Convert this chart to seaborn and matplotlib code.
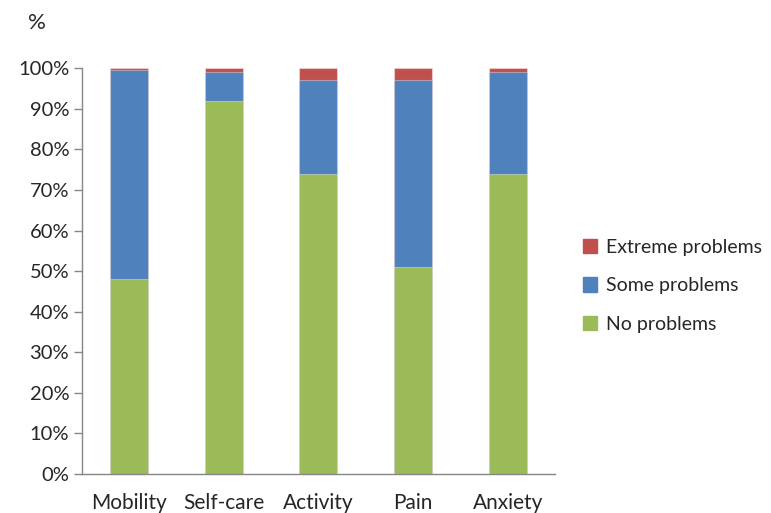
import matplotlib
matplotlib.use("Agg")
import matplotlib.pyplot as plt
import seaborn as sns
import pandas as pd
import numpy as np
from matplotlib.patches import Patch

categories = ["Mobility", "Self-care", "Activity", "Pain", "Anxiety"]
no_problems = [48, 92, 74, 51, 74]
some_problems = [51.5, 7, 23, 46, 25]
extreme_problems = [0.5, 1, 3, 3, 1]

green = "#9BBB59"
blue = "#4F81BD"
red = "#C0504D"

df = pd.DataFrame({"cat": categories, "no": no_problems,
                   "some": some_problems, "extreme": extreme_problems})
df["lvl2"] = df["no"] + df["some"]
df["lvl3"] = df["lvl2"] + df["extreme"]

sns.set_theme(style="white")
plt.rcParams["font.family"] = ["Lato", "DejaVu Sans"]

fig = plt.figure(figsize=(7.71, 5.13), dpi=100)
ax = fig.add_axes([0.106, 0.076, 0.614, 0.791])

# stacked bars drawn tallest first
sns.barplot(data=df, x="cat", y="lvl3", color=red, width=0.4, saturation=1, ax=ax)
sns.barplot(data=df, x="cat", y="lvl2", color=blue, width=0.4, saturation=1, ax=ax)
sns.barplot(data=df, x="cat", y="no", color=green, width=0.4, saturation=1, ax=ax)
for p in ax.patches:
    p.set_edgecolor((1, 1, 1, 0.35))
    p.set_linewidth(0.8)

ax.set_ylim(0, 100)
ax.set_xlim(-0.5, len(categories) - 0.5)
ax.set_yticks(np.arange(0, 101, 10))
ax.set_yticklabels([f"{v}%" for v in range(0, 101, 10)], fontsize=14.5)
ax.set_xticks(range(len(categories)))
ax.set_xticklabels(categories, fontsize=15)
ax.set_xticks(np.arange(-0.5, len(categories), 1), minor=True)
ax.tick_params(axis="x", which="major", length=0, pad=14)
ax.tick_params(axis="x", which="minor", length=6, color="#868686", width=1, direction="out")
ax.tick_params(axis="y", length=6, color="#868686", width=1, direction="out", left=True, pad=3)
ax.set_xlabel("")
ax.set_ylabel("")
sns.despine(ax=ax)
for s in ["left", "bottom"]:
    ax.spines[s].set_color("#868686")
    ax.spines[s].set_linewidth(1)

fig.text(0.036, 0.955, "%", fontsize=16, ha="left", va="center")

handles = [Patch(color=red, label="Extreme problems"),
           Patch(color=blue, label="Some problems"),
           Patch(color=green, label="No problems")]
fig.legend(handles=handles, loc="center left", bbox_to_anchor=(0.733, 0.443),
           frameon=False, fontsize=14, handlelength=0.75, handleheight=0.75,
           handletextpad=0.45, labelspacing=1.1)

fig.savefig("out.png", dpi=100)
